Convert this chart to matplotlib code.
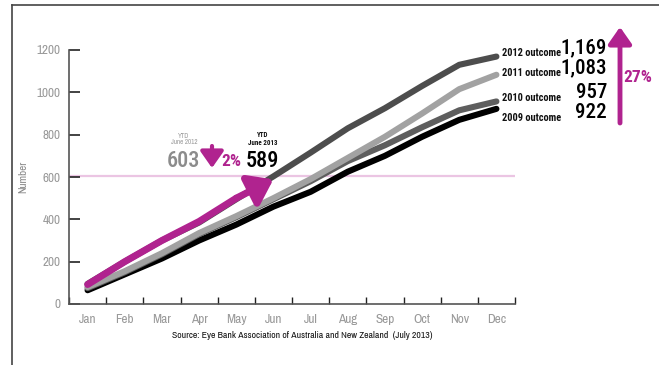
import numpy as np
import matplotlib
matplotlib.use("Agg")
import matplotlib.pyplot as plt
from matplotlib.lines import Line2D
from matplotlib.patches import FancyArrowPatch

plt.rcParams["font.family"] = ["Archivo Narrow", "Liberation Sans", "DejaVu Sans"]
heavy = ["Roboto Condensed", "Barlow Semi Condensed", "Liberation Sans"]

months = ["Jan", "Feb", "Mar", "Apr", "May", "Jun", "Jul", "Aug", "Sep", "Oct", "Nov", "Dec"]
y2009 = [65, 140, 215, 300, 375, 460, 530, 625, 700, 790, 870, 922]
y2010 = [75, 150, 235, 330, 410, 495, 580, 675, 750, 835, 915, 957]
y2011 = [80, 155, 240, 335, 415, 500, 590, 690, 790, 900, 1015, 1083]
y2012 = [95, 200, 300, 385, 495, 603, 715, 830, 925, 1030, 1130, 1169]
y2013 = [92, 200, 300, 390, 500, 589]
ytd_2012 = 603
ytd_2013 = 589

magenta = "#b0238f"
x = np.arange(12) + 0.5

fig = plt.figure(figsize=(6.59, 3.65), dpi=100)
ax = fig.add_axes([69 / 659, 61 / 365, 446 / 659, 254 / 365])

# outer frame (top and left edges)
fig.add_artist(Line2D([12 / 659, 1], [1 - 5 / 365, 1 - 5 / 365], transform=fig.transFigure,
                      color="#444444", lw=1.2))
fig.add_artist(Line2D([12 / 659, 12 / 659], [0, 1 - 5 / 365], transform=fig.transFigure,
                      color="#444444", lw=1.2))

ax.axhline(ytd_2012, color="#ebc5e3", lw=1.6, zorder=1)

kw = dict(lw=4.4, solid_capstyle="round", solid_joinstyle="round")
ax.plot(x, y2009, color="#000000", zorder=2, **kw)
ax.plot(x, y2010, color="#5e5e5e", zorder=3, **kw)
ax.plot(x, y2011, color="#a2a2a2", zorder=4, **kw)
ax.plot(x, y2012, color="#4d4d4d", zorder=5, **kw)

# 2013 year to date with arrow head on the last month
n = len(y2013)
ax.plot(x[:n - 1], y2013[:n - 1], color=magenta, lw=5, solid_capstyle="round",
        solid_joinstyle="round", zorder=6)
ax.annotate("", xy=(x[n - 1], y2013[n - 1]), xytext=(x[n - 2], y2013[n - 2]),
            arrowprops=dict(arrowstyle="-|>,head_length=0.7,head_width=0.5", lw=5,
                            color=magenta, mutation_scale=20, shrinkA=0, shrinkB=0),
            zorder=6)

ax.set_xlim(0, 12)
ax.set_ylim(0, 1200)
for s in ["top", "right"]:
    ax.spines[s].set_visible(False)
for s in ["left", "bottom"]:
    ax.spines[s].set_color("#555555")
    ax.spines[s].set_linewidth(1.2)

ax.set_yticks(np.arange(0, 1201, 200))
ax.tick_params(axis="y", direction="in", length=8, width=1.2, color="#222222",
               labelcolor="#999999", labelsize=9.5, pad=6)
ax.set_xticks(np.arange(13))
ax.set_xticklabels([])
ax.set_xticks(x, minor=True)
ax.set_xticklabels(months, minor=True)
ax.tick_params(axis="x", which="major", direction="in", length=5, width=1, color="#222222")
ax.tick_params(axis="x", which="minor", length=0, labelcolor="#999999", labelsize=9.5, pad=7)

ax.set_ylabel("Number", color="#888888", fontsize=8, labelpad=6)

fig.text(302 / 659, 1 - 336 / 365, "Source: Eye Bank Association of Australia and New Zealand  (July 2013)",
         fontsize=7, ha="center", va="center", color="#111111")

# YTD callouts
def px(xp, yp):
    return ((xp - 69) / 446 * 12, (304 - yp) / 254 * 1200)

ax.text(*px(184, 139), "YTD\nJune 2012", fontsize=5, color="#999999", ha="center", va="center",
        linespacing=1.1)
ax.text(*px(183, 161), f"{ytd_2012}", fontsize=16, color="#8c8c8c", ha="center", va="center",
        family=heavy, fontweight="medium")
ax.text(*px(263, 139), "YTD\nJune 2013", fontsize=5, color="#111111", ha="center", va="center",
        linespacing=1.1, family=heavy, fontweight="bold")
ax.text(*px(262, 161), f"{ytd_2013}", fontsize=16, color="#000000", ha="center", va="center",
        family=heavy, fontweight="medium")
change = round((ytd_2013 - ytd_2012) / ytd_2012 * 100)
ax.annotate("", xy=px(212, 168), xytext=px(212, 146),
            arrowprops=dict(arrowstyle="-|>,head_length=0.5,head_width=0.35", lw=3,
                            color=magenta, mutation_scale=20, shrinkA=0, shrinkB=0),
            annotation_clip=False)
ax.text(*px(231, 161), f"{abs(change)}%", fontsize=12.5, color=magenta, fontweight="bold",
        family=heavy, ha="center", va="center")

# year-end outcomes
outcomes = [("2012 outcome", y2012[-1], 53, 48),
            ("2011 outcome", y2011[-1], 73, 68),
            ("2010 outcome", y2010[-1], 98, 92),
            ("2009 outcome", y2009[-1], 118, 112)]
for label, val, ly, ny in outcomes:
    fig.text(502 / 659, 1 - ly / 365, label, fontsize=7.5, fontweight="bold", family=heavy,
             ha="left", va="center", color="#111111")
    fig.text(607 / 659, 1 - ny / 365, f"{val:,}", fontsize=15, ha="right", va="center",
             color="#000000", family=heavy, fontweight="medium")

growth = round((y2012[-1] - y2009[-1]) / y2009[-1] * 100)
fig.add_artist(FancyArrowPatch(
    (620 / 659, 1 - 123 / 365), (620 / 659, 1 - 27 / 365), transform=fig.transFigure,
    arrowstyle="-|>,head_length=0.5,head_width=0.35", lw=3.5, color=magenta,
    mutation_scale=20, shrinkA=0, shrinkB=0))
fig.text(623 / 659, 1 - 78 / 365, f"{growth}%", fontsize=12.5, fontweight="bold", family=heavy,
         color=magenta, ha="left", va="center")

fig.savefig("out.png", dpi=100)
